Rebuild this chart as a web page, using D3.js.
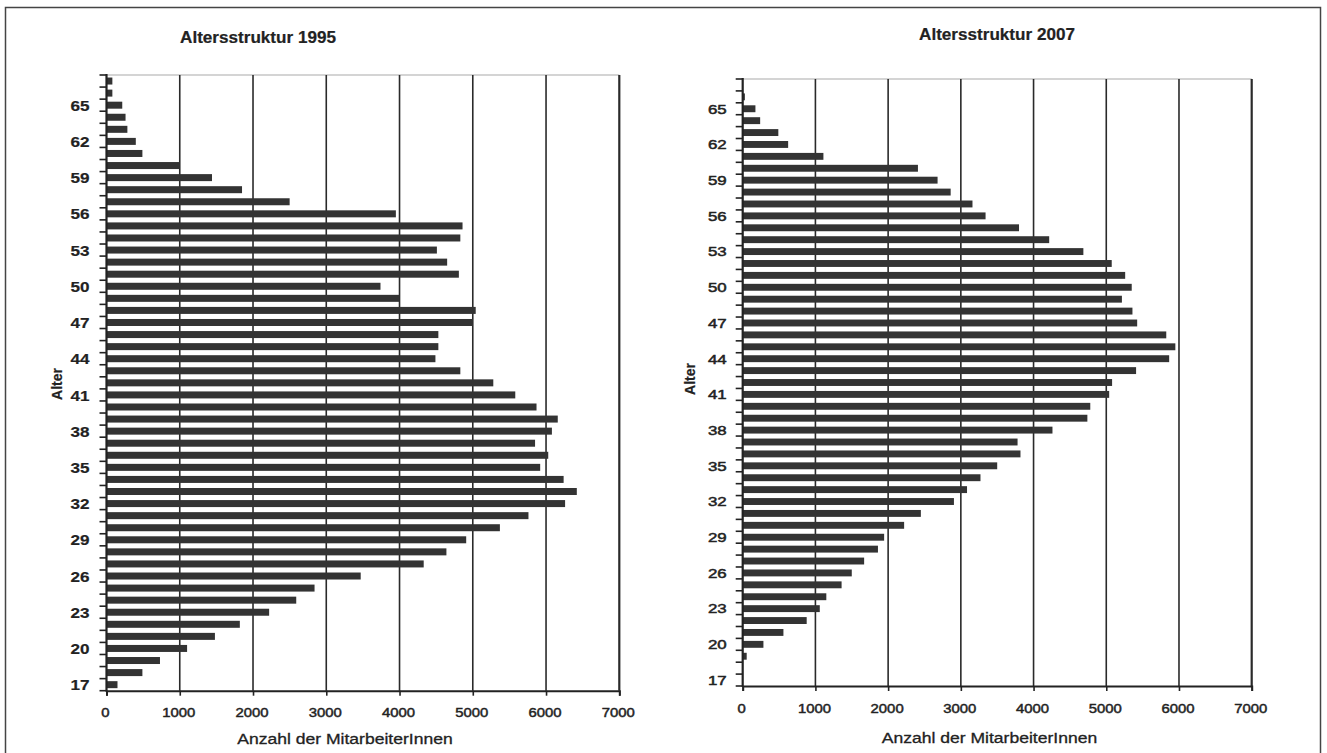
<!DOCTYPE html>
<html><head><meta charset="utf-8">
<script src="https://cdn.jsdelivr.net/npm/d3@7"></script>
<style>body{margin:0;background:#fff} text{font-family:"Liberation Sans",Arial,sans-serif;fill:#222}</style>
</head><body>
<svg id="c" width="1327" height="753"></svg>
<script>
// ---- data ----
const ages = [17,18,19,20,21,22,23,24,25,26,27,28,29,30,31,32,33,34,35,36,37,38,39,40,41,42,43,44,45,46,47,48,49,50,51,52,53,54,55,56,57,58,59,60,61,62,63,64,65,66,67];
const values1995 = [150,490,730,1100,1480,1820,2220,2590,2840,3470,4330,4640,4910,5370,5760,6260,6420,6240,5920,6030,5850,6080,6160,5870,5580,5280,4830,4490,4530,4530,5000,5040,4000,3740,4810,4650,4510,4830,4860,3950,2500,1850,1440,1000,490,400,285,260,215,80,80];
const values2007 = [0,0,55,285,560,880,1060,1150,1360,1500,1670,1860,1945,2220,2450,2905,3085,3270,3500,3820,3780,4260,4740,4780,5040,5080,5410,5865,5950,5825,5425,5360,5215,5350,5260,5075,4685,4215,3800,3340,3160,2860,2680,2410,1110,625,490,240,175,30,0];
const ageTickLabels = [17,20,23,26,29,32,35,38,41,44,47,50,53,56,59,62,65];
const xTickValues = [0,1000,2000,3000,4000,5000,6000,7000];
const titles = ["Altersstruktur 1995","Altersstruktur 2007"];
const xAxisTitle = "Anzahl der MitarbeiterInnen";
const yAxisTitle = "Alter";

const svg = d3.select("#c");

// outer frame
svg.append("rect").attr("x",5.5).attr("y",7.5).attr("width",1315).attr("height",770)
  .attr("fill","none").attr("stroke","#444").attr("stroke-width",1.5);

function txt(g, s, x, y, opt){
  const t = g.append("text")
    .attr("transform",`translate(${x},${y}) scale(${opt.sx||1},1)` + (opt.rot?` rotate(${opt.rot})`:""))
    .attr("text-anchor",opt.anchor||"middle")
    .attr("dominant-baseline","central")
    .style("font-size",(opt.size||13)+"px")
    .style("font-weight",opt.bold?"bold":"normal")
    .style("stroke","#222").style("stroke-width",(opt.sw||0)+"px")
    .text(s);
  return t;
}

function drawChart(cfg){
  const g = svg.append("g");
  const x = d3.scaleLinear().domain([0,7000]).range([cfg.x0,cfg.x1]);
  const y = d3.scaleBand().domain(ages.slice().reverse()).range([cfg.yTop,cfg.yBot]).paddingInner(0.42).paddingOuter(0.21);
  const yb = d3.scaleBand().domain(ages.slice().reverse()).range([cfg.yTop,cfg.yBot]);

  // top border (gray)
  g.append("line").attr("x1",cfg.x0).attr("x2",cfg.x1).attr("y1",cfg.yTop).attr("y2",cfg.yTop)
    .attr("stroke","#aaa").attr("stroke-width",1.2);

  // gridlines
  g.selectAll("line.grid").data(xTickValues.slice(1)).join("line").attr("class","grid")
    .attr("x1",d=>x(d)).attr("x2",d=>x(d)).attr("y1",cfg.yTop).attr("y2",cfg.yBot)
    .attr("stroke","#2a2a2a").attr("stroke-width",d=>d===7000?2.2:1.6);

  // bars
  g.selectAll("rect.bar").data(ages.map((a,i)=>({a,v:cfg.values[i]}))).join("rect").attr("class","bar")
    .attr("x",x(0)).attr("y",d=>y(d.a)).attr("height",y.bandwidth())
    .attr("width",d=>Math.max(0,x(d.v)-x(0))).attr("fill","#333");

  // x axis
  const xa = g.append("g").attr("transform",`translate(0,${cfg.yBot})`)
    .call(d3.axisBottom(x).tickValues(xTickValues).tickSize(5).tickFormat(""));
  xa.select(".domain").attr("stroke","#222").attr("stroke-width",2);
  xa.selectAll(".tick line").attr("stroke","#222").attr("stroke-width",1.6);

  // y axis
  const boundaries = yb.domain().map(a=>yb(a)).concat([cfg.yBot]);
  g.append("line").attr("x1",cfg.x0).attr("x2",cfg.x0).attr("y1",cfg.yTop-1).attr("y2",cfg.yBot+1)
    .attr("stroke","#222").attr("stroke-width",2.2);
  g.selectAll("line.yt").data(boundaries).join("line").attr("class","yt")
    .attr("x1",cfg.x0-7).attr("x2",cfg.x0).attr("y1",d=>d).attr("y2",d=>d)
    .attr("stroke","#222").attr("stroke-width",1.6);

  // y tick labels
  ageTickLabels.forEach(a=>{
    txt(g, String(a), cfg.x0-cfg.ylGap, yb(a)+yb.bandwidth()/2, {anchor:"end",size:cfg.ylSize,bold:cfg.ylBold,sx:cfg.ylSx,sw:cfg.ylSw});
  });
  // x tick labels
  xTickValues.forEach(v=>{
    txt(g, String(v), x(v)-1, cfg.xtY, {size:12.5,sx:1.19,bold:false,sw:0.45});
  });

  // titles
  txt(g, cfg.title, cfg.titleX, cfg.titleY, {size:16,bold:true,sx:1.07,sw:0.2});
  txt(g, xAxisTitle, cfg.xlX, cfg.xlY, {size:15,sx:1.17,sw:0.3});
  txt(g, yAxisTitle, cfg.ylabX, cfg.ylabY, {size:14,bold:true,rot:-90,sw:0.2});
}

drawChart({values:values1995, x0:106.5, x1:619.3, yTop:75, yBot:690.7,
  ylGap:17, ylSize:15, ylBold:true, ylSx:1.14, ylSw:0.2, xtY:713,
  title:titles[0], titleX:258, titleY:38, xlX:345, xlY:738, ylabX:57, ylabY:384});
drawChart({values:values2007, x0:742.7, x1:1251.7, yTop:79, yBot:686,
  ylGap:16, ylSize:13.5, ylBold:false, ylSx:1.25, ylSw:0.5, xtY:709,
  title:titles[1], titleX:997, titleY:35, xlX:989.5, xlY:737, ylabX:690, ylabY:379});
</script>
</body></html>
